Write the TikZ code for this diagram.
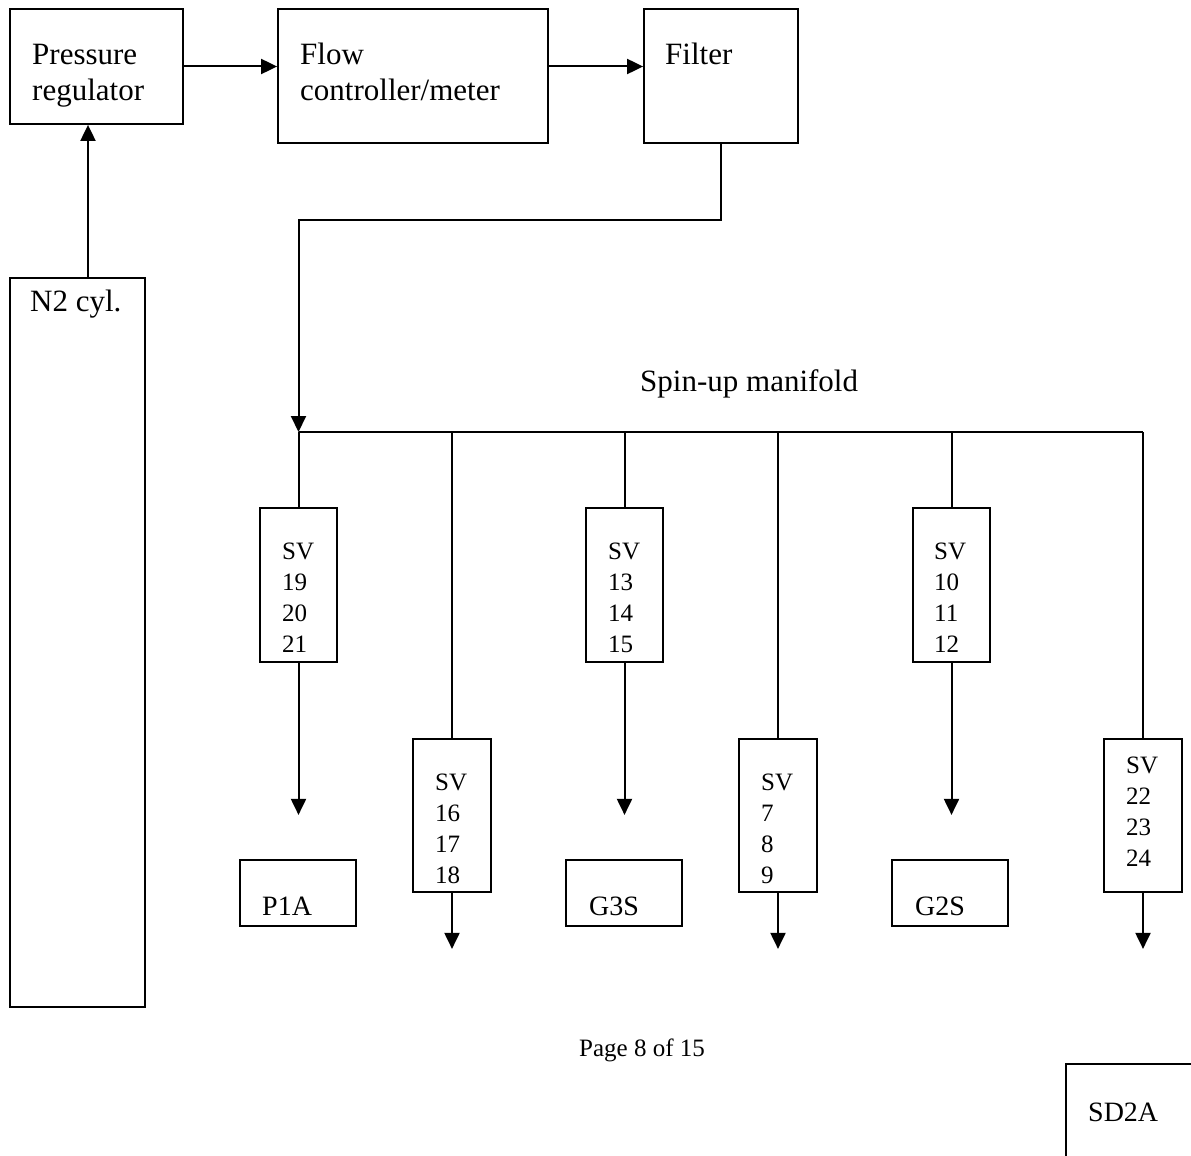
\documentclass[tikz,border=0pt]{standalone}
\usepackage{fontspec}
\setmainfont{Liberation Serif}
\usetikzlibrary{arrows.meta}
\begin{document}
\begin{tikzpicture}[x=1pt,y=-1pt,
  box/.style={draw,line width=1.8pt,inner sep=0pt},
  lbl/.style={inner sep=0pt,anchor=base west,font=\fontsize{31}{35}\selectfont},
  svl/.style={inner sep=0pt,anchor=base west,align=left,font=\fontsize{25}{31}\selectfont},
  ln/.style={line width=2pt},
  arr/.style={line width=2pt,-{Triangle[length=16pt,width=15pt]}}]
\useasboundingbox (0,0) rectangle (1191,1156);
% boxes
\node[box,minimum width=173pt,minimum height=115pt] (preg) at (96.5,66.5) {};
\node[box,minimum width=270pt,minimum height=134pt] (flow) at (413,76) {};
\node[box,minimum width=154pt,minimum height=134pt] (filt) at (721,76) {};
\node[box,minimum width=135pt,minimum height=729pt] (n2) at (77.5,642.5) {};
\node[box,minimum width=77pt,minimum height=154pt] (sv19) at (298.5,585) {};
\node[box,minimum width=77pt,minimum height=154pt] (sv13) at (624.5,585) {};
\node[box,minimum width=77pt,minimum height=154pt] (sv10) at (951.5,585) {};
\node[box,minimum width=78pt,minimum height=153pt] (sv16) at (452,815.5) {};
\node[box,minimum width=78pt,minimum height=153pt] (sv7) at (778,815.5) {};
\node[box,minimum width=78pt,minimum height=153pt] (sv22) at (1143,815.5) {};
\node[box,minimum width=116pt,minimum height=66pt] (p1a) at (298,893) {};
\node[box,minimum width=116pt,minimum height=66pt] (g3s) at (624,893) {};
\node[box,minimum width=116pt,minimum height=66pt] (g2s) at (950,893) {};
\node[box,minimum width=140pt,minimum height=120pt] (sd2a) at (1136,1124) {};
% texts
\node[lbl] (tpreg1) at (32,64) {Pressure};
\node[lbl] (tpreg2) at (32,100) {regulator};
\node[lbl] (tflow1) at (300,64) {Flow};
\node[lbl] (tflow2) at (300,100) {controller/meter};
\node[lbl] (tfilt) at (665,64) {Filter};
\node[lbl] (tn2) at (30,311) {N2 cyl.};
\node[lbl] (tman) at (640,391) {Spin-up manifold};
\node[svl] (t19) at (282,652) {SV\\19\\20\\21};
\node[svl] (t13) at (608,652) {SV\\13\\14\\15};
\node[svl] (t10) at (934,652) {SV\\10\\11\\12};
\node[svl] (t16) at (435,883) {SV\\16\\17\\18};
\node[svl] (t7) at (761,883) {SV\\7\\8\\9};
\node[svl] (t22) at (1126,866) {SV\\22\\23\\24};
\node[lbl,font=\fontsize{28}{32}\selectfont] (tp1a) at (262,915) {P1A};
\node[lbl,font=\fontsize{28}{32}\selectfont] (tg3s) at (589,915) {G3S};
\node[lbl,font=\fontsize{28}{32}\selectfont] (tg2s) at (915,915) {G2S};
\node[lbl,font=\fontsize{28}{32}\selectfont] (tsd2a) at (1088,1121) {SD2A};
\node[svl,anchor=base] (tpage) at (642,1056) {Page 8 of 15};
% connectors
\coordinate (m0) at (298.5,432);
\coordinate (m5) at (1143,432);
\draw[arr] ([xshift=10.5pt]n2.north) -- ([xshift=-8.5pt]preg.south);
\draw[arr] (preg.east) -- (preg.east -| flow.west);
\draw[arr] (preg.east -| flow.east) -- (preg.east -| filt.west);
\draw[arr] (filt.south) -- ++(0,76) -| (m0);
\draw[ln] (m0) -- (m5);
\draw[ln] (m0) -- (sv19.north);
\draw[ln] (sv16.north |- m0) -- (sv16.north);
\draw[ln] (sv13.north |- m0) -- (sv13.north);
\draw[ln] (sv7.north |- m0) -- (sv7.north);
\draw[ln] (sv10.north |- m0) -- (sv10.north);
\draw[ln] (m5) -- (sv22.north);
\draw[arr] (sv19.south) -- ++(0,152);
\draw[arr] (sv13.south) -- ++(0,152);
\draw[arr] (sv10.south) -- ++(0,152);
\draw[arr] (sv16.south) -- ++(0,56);
\draw[arr] (sv7.south) -- ++(0,56);
\draw[arr] (sv22.south) -- ++(0,56);
\end{tikzpicture}
\end{document}
